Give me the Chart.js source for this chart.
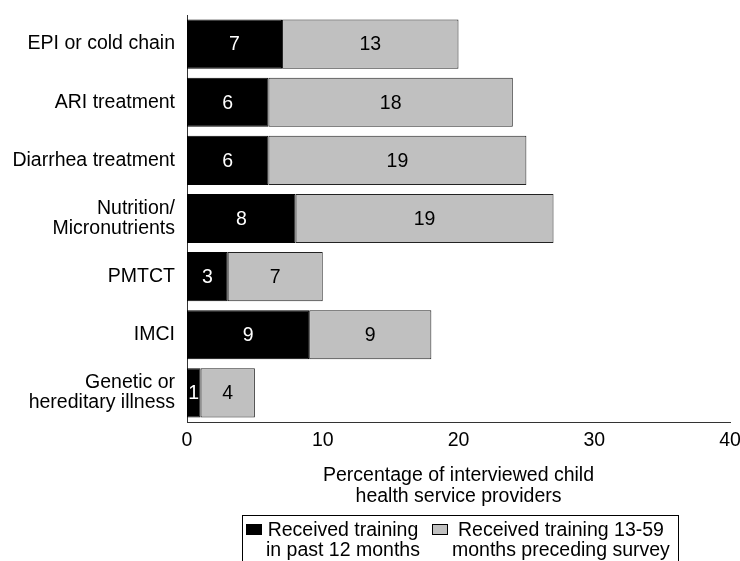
<!DOCTYPE html>
<html>
<head>
<meta charset="utf-8">
<script src="https://cdn.jsdelivr.net/npm/chart.js@4.4.1/dist/chart.umd.min.js"></script>
<style>
  body { margin: 0; background: #fff; }
  canvas { display: block; }
</style>
</head>
<body>
<canvas id="training" width="740" height="561"></canvas>
<script>
const categories = [
    'EPI or cold chain',
    'ARI treatment',
    'Diarrhea treatment',
    ['Nutrition/', 'Micronutrients'],
    'PMTCT',
    'IMCI',
    ['Genetic or', 'hereditary illness']
];
const past12Months = [7, 6, 6, 8, 3, 9, 1];
const months13to59 = [13, 18, 19, 19, 7, 9, 4];
const xTicks = [0, 10, 20, 30, 40];
const legendPast12 = ['Received training', 'in past 12 months'];
const legend13to59 = ['Received training 13-59', 'months preceding survey'];
const axisTitle = ['Percentage of interviewed child', 'health service providers'];

const FONT = '"Liberation Sans", Arial, sans-serif';
const SIZE = 19.5;

// value labels inside each segment
const barLabels = {
    id: 'barLabels',
    afterDatasetsDraw(chart) {
        const ctx = chart.ctx;
        ctx.save();
        ctx.font = SIZE + 'px ' + FONT;
        ctx.textAlign = 'center';
        ctx.textBaseline = 'middle';
        chart.data.datasets.forEach(function (ds, i) {
            chart.getDatasetMeta(i).data.forEach(function (bar, j) {
                const cx = (bar.x + bar.base) / 2;
                ctx.fillStyle = ds.labelColor;
                ctx.fillText(String(ds.data[j]), cx, bar.y + 1);
            });
        });
        ctx.restore();
    }
};

// boxed legend with two-line entries, below the axis title
const boxLegend = {
    id: 'boxLegend',
    afterDraw(chart) {
        const ctx = chart.ctx;
        const top = 515.5, left = 242.5, right = 678.5;
        ctx.save();
        ctx.strokeStyle = '#000';
        ctx.lineWidth = 1;
        ctx.strokeRect(left, top, right - left, 60);
        ctx.font = SIZE + 'px ' + FONT;
        ctx.textBaseline = 'middle';
        ctx.textAlign = 'center';
        const items = [
            { x: 246, ds: chart.data.datasets[0] },
            { x: 432, ds: chart.data.datasets[1] }
        ];
        items.forEach(function (it) {
            ctx.fillStyle = it.ds.backgroundColor;
            ctx.fillRect(it.x, 524, 16, 11);
            ctx.strokeStyle = '#000';
            ctx.strokeRect(it.x + 0.5, 524.5, 15, 10);
            ctx.fillStyle = '#000';
            const w = Math.max.apply(null, it.ds.label.map(function (t) { return ctx.measureText(t).width; }));
            const cx = it.x + 20 + w / 2;
            it.ds.label.forEach(function (t, k) {
                ctx.fillText(t, cx, 531 + k * 20);
            });
        });
        ctx.restore();
    }
};

new Chart(document.getElementById('training'), {
    type: 'bar',
    data: {
        labels: categories,
        datasets: [{
            label: legendPast12,
            data: past12Months,
            backgroundColor: '#000000',
            borderColor: '#000000',
            labelColor: '#ffffff',
            borderWidth: 1,
            borderSkipped: false,
            barPercentage: 0.845,
            categoryPercentage: 1
        }, {
            label: legend13to59,
            data: months13to59,
            backgroundColor: '#c0c0c0',
            borderColor: '#222222',
            labelColor: '#000000',
            borderWidth: 1,
            borderSkipped: false,
            barPercentage: 0.845,
            categoryPercentage: 1
        }]
    },
    options: {
        indexAxis: 'y',
        responsive: false,
        animation: false,
        layout: { padding: { top: 15, right: 10, bottom: 51, left: 0 } },
        plugins: {
            legend: { display: false },
            tooltip: { enabled: false }
        },
        scales: {
            x: {
                stacked: true,
                min: 0,
                max: 40,
                afterBuildTicks: function (scale) {
                    scale.ticks = xTicks.map(function (v) { return { value: v }; });
                },
                afterFit: function (scale) {
                    scale.height = 88;
                    scale.paddingLeft = 0;
                    scale.paddingRight = 0;
                },
                grid: { display: false, drawTicks: false },
                border: { display: true, color: '#333', width: 1 },
                ticks: {
                    color: '#000',
                    padding: 7,
                    maxRotation: 0,
                    font: { family: FONT, size: SIZE }
                },
                title: {
                    display: true,
                    text: axisTitle,
                    color: '#000',
                    padding: { top: 0, bottom: 3 },
                    font: { family: FONT, size: SIZE, lineHeight: 1.08 }
                }
            },
            y: {
                stacked: true,
                afterFit: function (scale) {
                    scale.width = 187;
                    scale.paddingTop = 0;
                    scale.paddingBottom = 0;
                },
                grid: { display: false, drawTicks: false },
                border: { display: true, color: '#333', width: 1 },
                ticks: {
                    color: '#000',
                    padding: 12,
                    font: { family: FONT, size: SIZE, lineHeight: 1.03 }
                }
            }
        }
    },
    plugins: [barLabels, boxLegend]
});
</script>
</body>
</html>
